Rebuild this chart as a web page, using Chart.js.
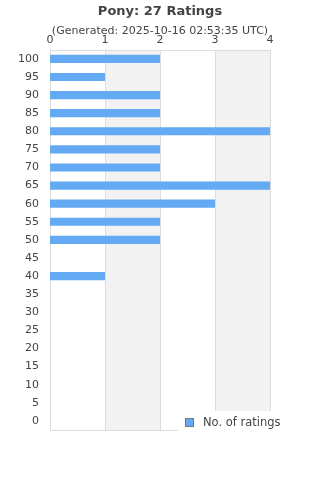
<!DOCTYPE html>
<html>
<head>
<meta charset="utf-8">
<script src="https://cdn.jsdelivr.net/npm/chart.js@4"></script>
<style>
  html, body { margin: 0; padding: 0; background: #fff; }
  #wrap { width: 320px; height: 480px; }
</style>
</head>
<body>
<div id="wrap"><canvas id="ratings_graph" width="320" height="480"></canvas></div>
<script>
const score_labels = ['100', '95', '90', '85', '80', '75', '70', '65', '60', '55', '50',
    '45', '40', '35', '30', '25', '20', '15', '10', '5', '0'];
const rating_counts = [2, 1, 2, 2, 4, 2, 2, 4, 3, 2, 2, 0, 1, 0, 0, 0, 0, 0, 0, 0, 0];
const count_ticks = [0, 1, 2, 3, 4];

const text_color = '#444';
const bar_color = '#63a9f4';
const line_color = '#dddddd';

// grey bands between every other grid line, plus the frame
const bands = {
    id: 'bands',
    beforeDatasetsDraw(chart) {
        const { ctx, chartArea, scales } = chart;
        ctx.save();
        ctx.fillStyle = '#f2f2f2';
        for (let i = 1; i < count_ticks.length - 1; i += 2) {
            const x1 = scales.x.getPixelForValue(count_ticks[i]);
            const x2 = scales.x.getPixelForValue(count_ticks[i + 1]);
            ctx.fillRect(x1, chartArea.top, x2 - x1, chartArea.bottom - chartArea.top);
        }
        ctx.strokeStyle = line_color;
        ctx.lineWidth = 1;
        count_ticks.forEach(t => {
            const x = Math.round(scales.x.getPixelForValue(t)) + 0.5;
            ctx.beginPath();
            ctx.moveTo(x, chartArea.top);
            ctx.lineTo(x, chartArea.bottom);
            ctx.stroke();
        });
        ctx.beginPath();
        ctx.moveTo(chartArea.left, Math.round(chartArea.top) + 0.5);
        ctx.lineTo(chartArea.right, Math.round(chartArea.top) + 0.5);
        ctx.moveTo(chartArea.left, Math.round(chartArea.bottom) + 0.5);
        ctx.lineTo(chartArea.right, Math.round(chartArea.bottom) + 0.5);
        ctx.stroke();
        ctx.restore();
    }
};

// legend box sitting over the lower right corner
const corner_legend = {
    id: 'corner_legend',
    afterDraw(chart) {
        const { ctx } = chart;
        ctx.save();
        ctx.fillStyle = '#fff';
        ctx.fillRect(178, 411, 142, 30);
        ctx.fillStyle = bar_color;
        ctx.strokeStyle = '#777';
        ctx.lineWidth = 1;
        ctx.fillRect(185.5, 418.5, 8, 8);
        ctx.strokeRect(185.5, 418.5, 8, 8);
        ctx.fillStyle = text_color;
        ctx.font = '11.5px "DejaVu Sans"';
        ctx.textBaseline = 'middle';
        ctx.fillText(chart.data.datasets[0].label, 203, 423);
        ctx.restore();
    }
};

Chart.defaults.font.family = '"DejaVu Sans", sans-serif';
Chart.defaults.color = text_color;

new Chart(document.getElementById('ratings_graph'), {
    type: 'bar',
    data: {
        labels: score_labels,
        datasets: [{
            label: 'No. of ratings',
            data: rating_counts,
            backgroundColor: bar_color,
            barPercentage: 0.45,
            categoryPercentage: 1.0
        }]
    },
    options: {
        indexAxis: 'y',
        responsive: false,
        animation: false,
        layout: { padding: { left: 0, right: 0, bottom: 50, top: 4 } },
        plugins: {
            legend: { display: false },
            tooltip: { enabled: false },
            title: {
                display: true,
                text: 'Pony: 27 Ratings',
                color: text_color,
                font: { size: 13, weight: 'bold' },
                padding: { top: 0, bottom: 5 }
            },
            subtitle: {
                display: true,
                text: '(Generated: 2025-10-16 02:53:35 UTC)',
                color: text_color,
                font: { size: 11 },
                padding: { top: 0, bottom: -9 }
            }
        },
        scales: {
            x: {
                position: 'top',
                min: 0,
                max: 4,
                grid: { display: false, drawTicks: false },
                border: { display: false },
                ticks: { stepSize: 1, padding: 3, font: { size: 11 } },
                afterFit(scale) { scale.height = 21; }
            },
            y: {
                grid: { display: false, drawTicks: false },
                border: { display: false },
                ticks: { padding: 11, font: { size: 11 }, autoSkip: false },
                afterFit(scale) { scale.width = 50; }
            },
            // empty right axis keeps a 50px gutter while the titles stay centred on the page
            gutter: {
                type: 'category',
                position: 'right',
                grid: { display: false },
                border: { display: false },
                ticks: { display: false },
                afterFit(scale) { scale.width = 50; }
            }
        }
    },
    plugins: [bands, corner_legend]
});
</script>
</body>
</html>
